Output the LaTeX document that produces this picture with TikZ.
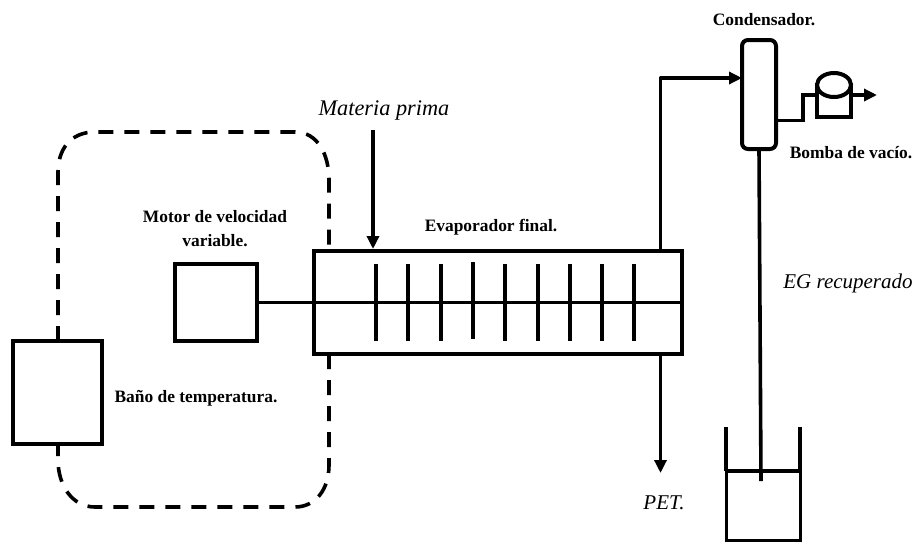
\documentclass[tikz,border=0pt]{standalone}
\usepackage{fontspec}
\setmainfont{Liberation Serif}
\usetikzlibrary{arrows.meta}
\tikzset{
  x=1pt,y=-1pt,
  thick box/.style={draw=black,line width=4pt,fill=white,inner sep=0pt,outer sep=0pt},
  pipe/.style={draw=black,line width=3.6pt},
  flow/.style={pipe,-{Triangle[length=13pt,width=12pt]}},
  dashline/.style={draw=black,line width=3.6pt,dash pattern=on 15pt off 11pt},
  boldlabel/.style={font=\fontsize{17.4pt}{24pt}\selectfont\bfseries,align=center,inner sep=0pt},
  itlabel/.style={font=\fontsize{21pt}{24pt}\selectfont\itshape,inner sep=0pt},
}
\begin{document}
\begin{tikzpicture}
\useasboundingbox (0,0) rectangle (916,542);
% dashed loop
\coordinate (loopTR) at (329,251);
\coordinate (loopBR) at (329,354);
\coordinate (bathN) at (58,341);
\coordinate (bathS) at (58,444);
\draw[dashline] (bathN) -- (58,172) .. controls (58,150) and (70,132) .. (95,132)
  -- (295,132) .. controls (318,132) and (329,155) .. (329,180) -- (loopTR);
\draw[dashline] (loopBR) -- (329,465) .. controls (329,490) and (315,507) .. (295,507)
  -- (95,507) .. controls (72,507) and (58,485) .. (58,460) -- (bathS);
% equipment
\node[thick box,minimum width=89pt,minimum height=103pt] (bath) at (57.5,392.5) {};
\node[thick box,minimum width=82pt,minimum height=77pt] (motor) at (216,302.5) {};
\node[thick box,minimum width=368pt,minimum height=103pt] (evap) at (497.5,302.5) {};
\node[thick box,minimum width=34pt,minimum height=109pt,rounded corners=6pt] (cond) at (759,94.5) {};
\node[thick box,line width=3.4pt,minimum width=34pt,minimum height=32pt] (pumpbase) at (834,101) {};
\draw[line width=4pt,fill=white] (834,85) ellipse [x radius=17pt,y radius=12pt];
\node[pipe,line width=3pt,inner sep=0pt,outer sep=0pt,minimum width=74pt,minimum height=69pt] (tank) at (763,505.5) {};
% shaft and blades
\draw[pipe] (motor.east) -- (evap.east);
\foreach \x/\a/\b in {376/264/341,408/264/341,441/264/341,473/262/339,505/264/341,538/264/341,570/264/341,602/264/341,634/264/341}{
  \draw[line width=3.4pt] (\x,\a) -- (\x,\b);
}
% flows
\coordinate (mpin) at (373,130);
\draw[flow] (mpin) -- (373,249);
\coordinate (feedout) at (660.5,249);
\coordinate (feedc) at (660.5,78);
\draw[flow,line join=round] (feedout) -- (feedc) -- (feedc -| cond.west);
\coordinate (petout) at (660.5,356);
\coordinate (petend) at (660.5,473);
\draw[flow] (petout) -- (petend);
\coordinate (egend) at (761,481);
\draw[pipe] (cond.south) -- (egend);
\draw[pipe] (tank.north west) -- (726,427);
\draw[pipe] (tank.north east) -- (800,427);
\draw[line width=4pt] (tank.north west) -- (tank.north east);
\coordinate (cout) at (776,120.5);
\coordinate (cm1) at (803,120.5);
\coordinate (cm2) at (803,95);
\draw[pipe] (cout) -- (cm1) -- (cm2) -- (pumpbase.west |- cm2);
\coordinate (pumpend) at (877,95);
\draw[flow] (pumpbase.east |- pumpend) -- (pumpend);
% labels
\node[boldlabel] (lcond) at (764,20) {Condensador.};
\node[boldlabel] (lbomba) at (851,153) {Bomba de vacío.};
\node[boldlabel] (lmotor) at (215,229) {Motor de velocidad\\variable.};
\node[boldlabel] (lbath) at (196,398) {Baño de temperatura.};
\node[boldlabel] (levap) at (491,227) {Evaporador final.};
\node[itlabel,font=\fontsize{22.3pt}{24pt}\selectfont\itshape] (lmp) at (384,110) {Materia prima};
\node[itlabel] (leg) at (848,283) {EG recuperado};
\node[itlabel] (lpet) at (664,503) {PET.};
\end{tikzpicture}
\end{document}
